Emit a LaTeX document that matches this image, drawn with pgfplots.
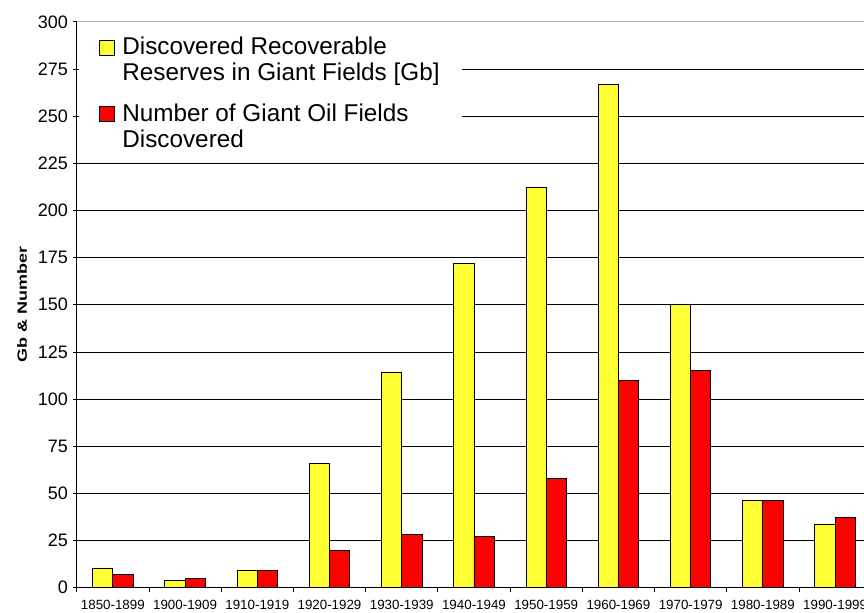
\documentclass[border=0pt]{standalone}
\usepackage{pgfplots}
\pgfplotsset{compat=1.18}
\usepackage{fontspec}
\setmainfont{Liberation Sans}
\definecolor{resYellow}{HTML}{FFFF33}
\definecolor{numRed}{HTML}{FF0000}

\begin{document}
\begin{tikzpicture}
\begin{axis}[
    scale only axis, width=590pt, height=424pt,
    ybar=0pt, bar width=0.28,
    xmin=-0.5, xmax=10.4, ymin=0, ymax=300,
    axis x line*=bottom, axis y line*=left,
    axis line style={black, line width=0.7pt},
    % tick marks between the decades, labels under them
    xtick={-0.5,0.5,...,9.5},
    xticklabels={},
    extra x ticks={0,...,10},
    extra x tick labels={1850-1899,1900-1909,1910-1919,1920-1929,1930-1939,1940-1949,1950-1959,1960-1969,1970-1979,1980-1989,1990-1999},
    extra x tick style={major tick length=0pt, grid=none,
        tick label style={font=\fontsize{10}{12}\selectfont, yshift=-6pt}},
    ytick={0,25,...,275},
    extra y ticks={300},
    extra y tick style={major grid style={gray!60, line width=0.8pt}},
    y tick label style={font=\fontsize{13.5}{15}\selectfont},
    /pgf/number format/assume math mode=true,
    tick align=outside, major tick length=3pt,
    tick style={black, line width=0.6pt},
    ymajorgrids, major grid style={black, line width=0.6pt},
    ylabel={Gb \& Number},
    ylabel style={at={(axis description cs:-0.0695,0.5)}, anchor=center,
        font=\bfseries\fontsize{10}{12}\selectfont, xscale=1.35},
    legend cell align=left,
    legend style={at={(0.003,0.993)}, anchor=north west, draw=none, fill=white,
        font=\fontsize{18.2}{19.8}\selectfont, cells={align=left},
        inner xsep=15pt, inner ysep=6pt, row sep=11.5pt},
    legend image code/.code={\draw[#1, draw=black, line width=0.5pt] (0pt,3.5pt) rectangle (11.3pt,14.8pt);
        \path[draw=none, fill=none] (0pt,4pt) -- (15pt,4pt);},
]
% Discovered recoverable reserves in giant fields [Gb]
\addplot[fill=resYellow, draw=black, line width=0.6pt] coordinates {
    (0,10) (1,4) (2,9) (3,66) (4,114) (5,172) (6,212) (7,267) (8,150) (9,46) (10,33.5)
};
% Number of giant oil fields discovered
\addplot[fill=numRed, draw=black, line width=0.6pt] coordinates {
    (0,7) (1,5) (2,9) (3,19.5) (4,28) (5,27) (6,58) (7,110) (8,115) (9,46) (10,37)
};
\legend{{Discovered Recoverable\\Reserves in Giant Fields [Gb]}, {Number of Giant Oil Fields\\Discovered}}
\coordinate (R) at (axis cs:10.4,0);
\end{axis}
\pgfresetboundingbox
\useasboundingbox ([xshift=-57.5pt,yshift=-18.6pt]current axis.south west) rectangle ([yshift=16.4pt]R |- current axis.north east);
\end{tikzpicture}
\end{document}
